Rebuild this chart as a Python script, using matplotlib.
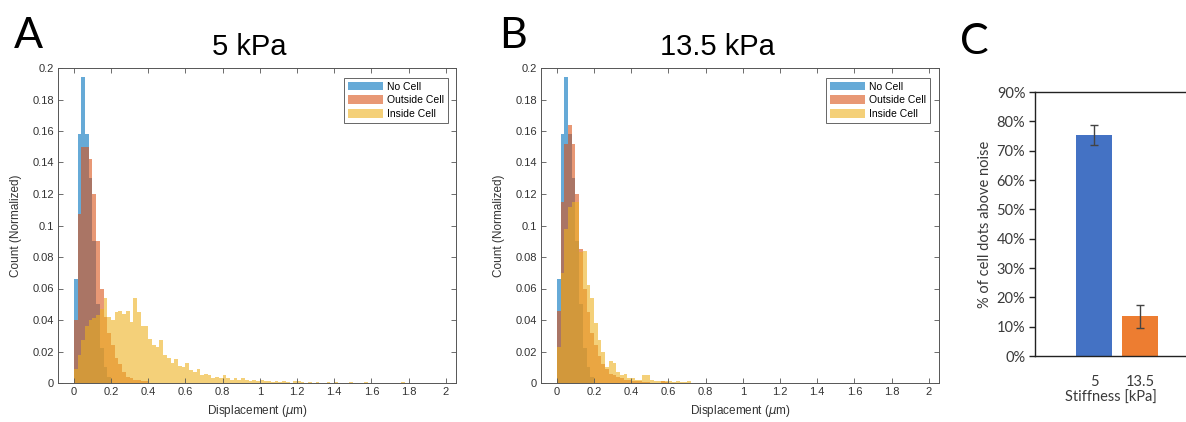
import numpy as np
import matplotlib
matplotlib.use("Agg")
import matplotlib.pyplot as plt

plt.rcParams['font.family'] = ['Liberation Sans', 'DejaVu Sans']

# ---------------- data ----------------
BIN_W = 0.02  # histogram bin width (um)

# Panel A: 5 kPa  (normalized counts per 0.02 um bin starting at 0)
a_no_cell = [0.066, 0.158, 0.194, 0.158, 0.130, 0.090, 0.050, 0.022, 0.010, 0.004]
a_outside = [0.040, 0.107, 0.150, 0.150, 0.142, 0.120, 0.090, 0.060, 0.042, 0.032,
             0.024, 0.016, 0.012, 0.007, 0.004, 0.003, 0.002, 0.002, 0.001, 0.001]
a_inside = [0.009, 0.018, 0.027, 0.036, 0.040, 0.041, 0.043, 0.047, 0.054, 0.042,
            0.040, 0.045, 0.046, 0.044, 0.046, 0.039, 0.054, 0.045, 0.036, 0.036,
            0.028, 0.024, 0.023, 0.027, 0.018, 0.016, 0.013, 0.015, 0.011, 0.010,
            0.013, 0.008, 0.007, 0.009, 0.005, 0.006, 0.005, 0.003, 0.004, 0.003,
            0.005, 0.003, 0.002, 0.003, 0.002, 0.003, 0.002, 0.001, 0.002, 0.001,
            0.002, 0.001, 0.001, 0.0005, 0.001, 0.0005, 0.001, 0.0005, 0.0, 0.001,
            0.001, 0.0005, 0.0, 0.0005, 0.0, 0.0005, 0.0, 0.0, 0.0005, 0.0,
            0.0005, 0.0, 0.0, 0.0, 0.0005, 0.0, 0.0, 0.0, 0.0005, 0.0,
            0.0, 0.0, 0.0, 0.0, 0.0, 0.0, 0.0, 0.0, 0.0005, 0.0]

# Panel B: 13.5 kPa
b_no_cell = [0.066, 0.158, 0.194, 0.158, 0.130, 0.090, 0.050, 0.022, 0.010, 0.004]
b_outside = [0.046, 0.115, 0.152, 0.164, 0.152, 0.120, 0.085, 0.060, 0.045, 0.032,
             0.024, 0.017, 0.012, 0.009, 0.006, 0.005, 0.004, 0.003, 0.002, 0.002,
             0.001, 0.001, 0.001, 0.0005, 0.0005, 0.0, 0.0, 0.0, 0.001, 0.0005]
b_inside = [0.023, 0.070, 0.098, 0.112, 0.115, 0.115, 0.083, 0.084, 0.062, 0.054,
            0.038, 0.027, 0.020, 0.010, 0.014, 0.013, 0.007, 0.005, 0.006, 0.003,
            0.003, 0.002, 0.002, 0.005, 0.005, 0.002, 0.001, 0.001, 0.001, 0.001,
            0.001, 0.0005, 0.001, 0.0005, 0.0005, 0.001]

series_labels = ["No Cell", "Outside Cell", "Inside Cell"]
x_ticks = [0, 0.2, 0.4, 0.6, 0.8, 1.0, 1.2, 1.4, 1.6, 1.8, 2.0]
y_ticks = [0, 0.02, 0.04, 0.06, 0.08, 0.10, 0.12, 0.14, 0.16, 0.18, 0.20]

# Panel C
stiffness = ["5", "13.5"]
pct_above_noise = [0.755, 0.136]
pct_err = [0.034, 0.039]
c_ticks = [0.0, 0.1, 0.2, 0.3, 0.4, 0.5, 0.6, 0.7, 0.8, 0.9]

# ---------------- figure ----------------
W, H = 1186, 422
fig = plt.figure(figsize=(W / 100, H / 100), dpi=100)

def fx(px):
    return px / W

def fy(py):
    return 1 - py / H

colors = [(0.0, 0.447, 0.741), (0.85, 0.325, 0.098), (0.929, 0.694, 0.125)]
axcol = '#555555'

def hist_panel(left, right, series, legend_right):
    ax = fig.add_axes([fx(left), fy(383), fx(right - left), (383 - 68) / H])
    handles = []
    for vals, c, lab in zip(series, colors, series_labels):
        edges = np.arange(len(vals)) * BIN_W
        h = ax.bar(edges, vals, width=BIN_W, align='edge', color=c, alpha=0.6,
                   linewidth=0, label=lab)
        handles.append(h)
    ax.set_xlim(-0.085, 2.055)
    ax.set_ylim(0, 0.2)
    ax.set_xticks(x_ticks)
    ax.set_xticklabels([f"{v:g}" for v in x_ticks])
    ax.set_yticks(y_ticks)
    ax.set_yticklabels([f"{v:g}" for v in y_ticks])
    ax.tick_params(direction='in', top=True, right=True, length=3.5, width=0.6,
                   labelsize=8, colors=axcol, labelcolor='#333333', pad=3)
    for s in ax.spines.values():
        s.set_color(axcol)
        s.set_linewidth(0.7)
    ax.set_xlabel('Displacement ($\\mu$m)', fontsize=8.5, color='#333333', labelpad=4)
    ax.set_ylabel('Count (Normalized)', fontsize=8.5, color='#333333', labelpad=7)
    leg = ax.legend(handles=handles, loc='upper right',
                    bbox_to_anchor=(fx(legend_right), fy(78)),
                    bbox_transform=fig.transFigure, fontsize=7.5, frameon=True,
                    fancybox=False, edgecolor='#666666', framealpha=1,
                    handlelength=3.4, handleheight=0.9, labelspacing=0.35,
                    borderpad=0.35, handletextpad=0.4, borderaxespad=0)
    leg.get_frame().set_linewidth(0.7)
    return ax

axA = hist_panel(58, 456, [a_no_cell, a_outside, a_inside], 448)
axB = hist_panel(541, 939, [b_no_cell, b_outside, b_inside], 930)

fig.text(fx(249), fy(47), '5 kPa', fontsize=21, ha='center', va='center')
fig.text(fx(717), fy(47), '13.5 kPa', fontsize=21, ha='center', va='center')

for lab, x, y in [('A', 28, 36), ('B', 513, 36), ('C', 974, 42)]:
    fig.text(fx(x), fy(y), lab, fontsize=31, ha='center', va='center',
             family=['Lato', 'DejaVu Sans'], fontweight='normal')

# Panel C
cfont = ['Lato', 'DejaVu Sans']
axC = fig.add_axes([fx(1035), fy(356), fx(151), (356 - 92) / H])
xpos = np.arange(len(stiffness))
axC.bar(xpos, pct_above_noise, width=0.78, color=['#4472C4', '#ED7D31'],
        yerr=pct_err, capsize=3,
        error_kw=dict(ecolor='#444444', elinewidth=1.0, capthick=1.0))
axC.set_xlim(-1.283, 2.0)
axC.set_ylim(0, 0.9)
axC.set_yticks(c_ticks)
axC.set_yticklabels([f"{int(round(v * 100))}%" for v in c_ticks],
                    family=cfont, fontsize=10.5, color='#3a3a3a')
axC.set_xticks(xpos)
axC.set_xticklabels(stiffness, family=cfont, fontsize=10.5, color='#3a3a3a')
axC.tick_params(axis='x', length=0, pad=14)
axC.tick_params(axis='y', length=4, width=1, color='#222222', pad=3)
for side in ['left', 'bottom', 'top']:
    axC.spines[side].set_color('#222222')
    axC.spines[side].set_linewidth(1.0)
axC.spines['right'].set_visible(False)
axC.set_xlabel('Stiffness [kPa]', family=cfont, fontsize=10.5,
               color='#3a3a3a', labelpad=1)
axC.set_ylabel('% of cell dots above noise', family=cfont,
               fontsize=10.5, color='#3a3a3a', labelpad=3)

fig.savefig('out.png', dpi=100)
